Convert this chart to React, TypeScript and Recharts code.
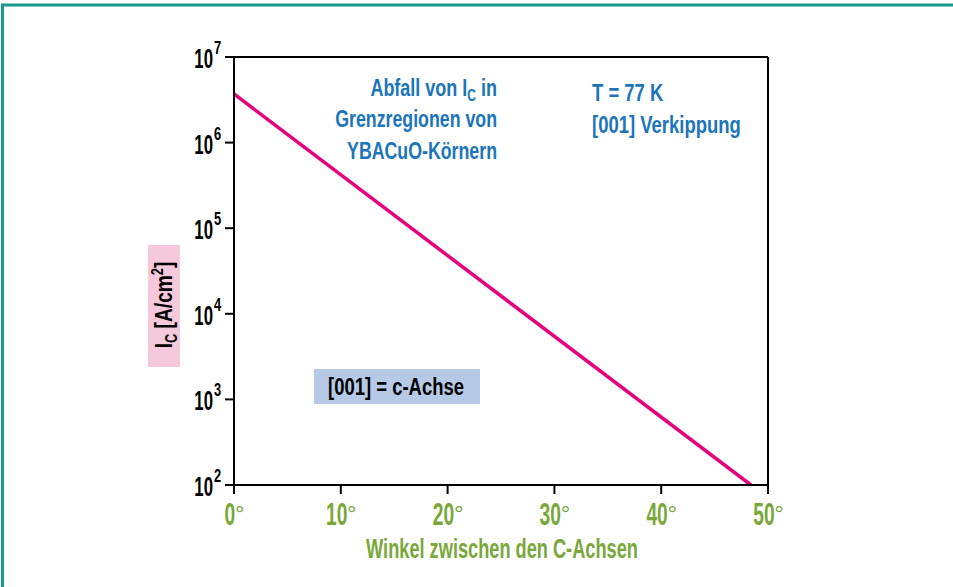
import React from 'react';
import { LineChart, Line, XAxis, YAxis, ReferenceLine } from 'recharts';

// angle between the c-axes (degrees) and critical current density (A/cm²)
const angles = [0, 48.4];
const currentDensity = [3.7e6, 100];
const xTicks = [0, 10, 20, 30, 40, 50];
const yTicks = [1e2, 1e3, 1e4, 1e5, 1e6, 1e7];

const data = angles.map((a, i) => ({ angle: a, ic: currentDensity[i] }));

const FONT = "'Liberation Sans', Arial, sans-serif";
const GREEN = '#78a83a';
const BLUE = '#1b75bb';
const MAGENTA = '#e5007e';

// condensed text: normal Liberation Sans squeezed horizontally
function CText({ x, y, sx = 0.85, size = 21, anchor = 'start', fill = '#000', weight = 'bold', children }: any) {
  return (
    <text
      transform={`translate(${x},${y}) scale(${sx},1)`}
      textAnchor={anchor}
      fontFamily={FONT}
      fontWeight={weight}
      fontSize={size}
      fill={fill}
    >
      {children}
    </text>
  );
}

function XTick(props: any) {
  const { x, payload } = props;
  const label = String(payload.value);
  const dw = label.length * 10.8;
  const total = dw + 8;
  const start = x - total / 2;
  return (
    <g>
      <CText x={start} y={525} sx={0.62} size={31} fill={GREEN}>{label}</CText>
      <text x={start + dw - 0.5} y={522} fontFamily={FONT} fontSize={24} fill={GREEN}>°</text>
    </g>
  );
}

function YTick(props: any) {
  const { y, payload } = props;
  const exp = Math.round(Math.log10(payload.value));
  return (
    <g>
      <CText x={213} y={y + 11} sx={0.6} size={28} anchor="end">10</CText>
      <CText x={214} y={y - 3} sx={0.68} size={19}>{exp}</CText>
    </g>
  );
}

export default function App() {
  return (
    <div style={{ position: 'absolute', left: 0, top: 0, width: 953, height: 587, background: '#fff' }}>
      <LineChart width={953} height={587} data={data} margin={{ top: 57, right: 185, left: 0, bottom: 0 }}>
        <XAxis
          dataKey="angle"
          type="number"
          domain={[0, 50]}
          ticks={xTicks}
          height={102}
          stroke="#000"
          strokeWidth={2}
          tickSize={9}
          tickLine={{ stroke: '#000', strokeWidth: 2 }}
          tick={(p: any) => <XTick {...p} />}
        />
        <YAxis
          scale="log"
          domain={[100, 1e7]}
          ticks={yTicks}
          allowDataOverflow
          width={234}
          stroke="#000"
          strokeWidth={2}
          tickSize={9}
          tickLine={{ stroke: '#000', strokeWidth: 2 }}
          tick={(p: any) => <YTick {...p} />}
        />
        <ReferenceLine y={1e7} stroke="#000" strokeWidth={2} />
        <ReferenceLine x={50} stroke="#000" strokeWidth={2} />
        <Line
          type="linear"
          dataKey="ic"
          stroke={MAGENTA}
          strokeWidth={3.5}
          dot={false}
          isAnimationActive={false}
        />
      </LineChart>
      <svg width={953} height={587} style={{ position: 'absolute', left: 0, top: 0, pointerEvents: 'none' }}>
        {/* frame */}
        <line x1={2.5} y1={4} x2={2.5} y2={587} stroke="#179a8b" strokeWidth={3} />
        <line x1={1} y1={5} x2={953} y2={5} stroke="#179a8b" strokeWidth={3} />

        {/* y-axis title */}
        <rect x={148} y={245} width={32} height={122} fill="#f6c8dc" />
        <g transform="translate(172,305) rotate(-90) scale(0.8,1)">
          <text textAnchor="middle" fontFamily={FONT} fontWeight="bold" fontSize={24} fill="#000">
            I<tspan fontSize={16} dy={5}>C</tspan>
            <tspan dy={-5}> [A/cm</tspan>
            <tspan fontSize={16} dy={-9}>2</tspan>
            <tspan dy={9}>]</tspan>
          </text>
        </g>

        {/* x-axis title */}
        <CText x={502} y={558} sx={0.65} size={28} anchor="middle" fill={GREEN}>Winkel zwischen den C-Achsen</CText>

        {/* annotations */}
        <text transform="translate(497,96) scale(0.75,1)" textAnchor="end" fontFamily={FONT} fontWeight="bold" fontSize={24} fill={BLUE}>
          Abfall von I<tspan fontSize={16} dy={5}>C</tspan><tspan dy={-5}> in</tspan>
        </text>
        <CText x={497} y={127} sx={0.74} size={24} anchor="end" fill={BLUE}>Grenzregionen von</CText>
        <CText x={497} y={159} sx={0.74} size={24} anchor="end" fill={BLUE}>YBACuO-Körnern</CText>
        <CText x={592} y={101} sx={0.77} size={24} fill={BLUE}>T = 77 K</CText>
        <CText x={592} y={133} sx={0.77} size={24} fill={BLUE}>[001] Verkippung</CText>

        <rect x={314} y={369} width={166} height={35} fill="#b6c9e7" />
        <CText x={328} y={395} sx={0.77} size={24} fill="#000">[001] = c-Achse</CText>
      </svg>
    </div>
  );
}
